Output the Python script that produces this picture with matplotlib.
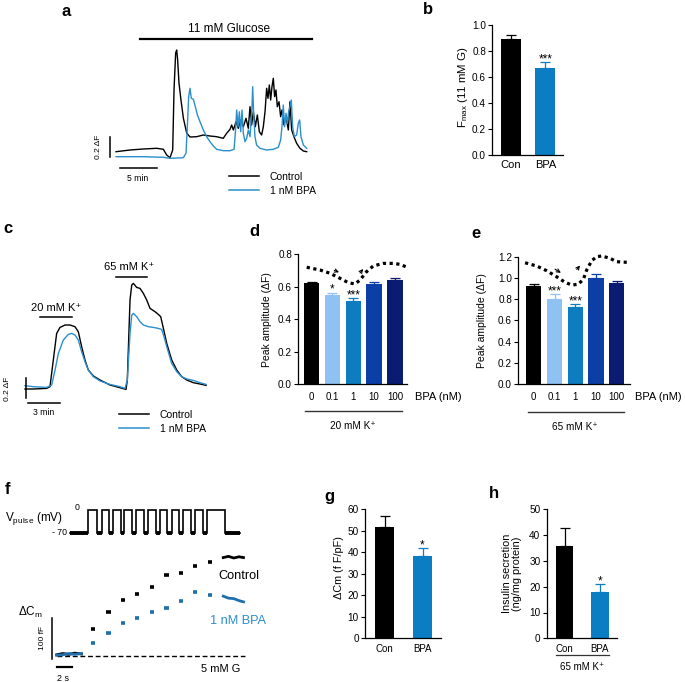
import matplotlib
matplotlib.use('Agg')
import matplotlib.pyplot as plt
from matplotlib.lines import Line2D
import numpy as np

plt.rcParams['font.family'] = ['Liberation Sans', 'DejaVu Sans']
plt.rcParams['mathtext.fontset'] = 'custom'
plt.rcParams['mathtext.rm'] = 'Liberation Sans'
plt.rcParams['axes.linewidth'] = 0.9

W, H = 685, 682

# ---------------- data ----------------
# a: Ca2+ trace, 11 mM glucose (time in min, dF)
a_ctrl_t = [0, 1.89, 3.69, 5.5, 6.4, 6.85, 7.3, 7.66, 7.84, 8.06, 8.2, 8.33, 8.51, 8.78, 9.1, 9.55,
            10.0, 10.9, 11.8, 12.7, 13.6, 14.5, 14.95, 15.41, 15.63, 15.86, 16.22, 16.53, 16.85,
            17.21, 17.57, 17.88, 18.11, 18.33, 18.56, 18.83, 19.1, 19.37, 19.68, 19.91, 20.14,
            20.36, 20.54, 20.72, 20.9, 21.08, 21.26, 21.44, 21.62, 21.8, 22.03, 22.25, 22.43,
            22.7, 22.97, 23.29, 23.51, 23.74, 24.05, 24.41, 24.86, 25.32, 25.77]
a_ctrl_f = [0.083, 0.10, 0.11, 0.117, 0.107, 0.05, 0.023, 0.10, 0.70, 1.07, 1.10, 1.00, 0.77, 0.60,
            0.42, 0.27, 0.23, 0.233, 0.25, 0.24, 0.233, 0.217, 0.267, 0.307, 0.35, 0.30, 0.383,
            0.317, 0.40, 0.333, 0.417, 0.317, 0.533, 0.35, 0.483, 0.333, 0.45, 0.283, 0.25, 0.333,
            0.483, 0.717, 0.617, 0.75, 0.60, 0.733, 0.817, 0.633, 0.70, 0.533, 0.583, 0.433, 0.50,
            0.35, 0.433, 0.30, 0.583, 0.30, 0.233, 0.167, 0.117, 0.09, 0.083]
a_bpa_t = [0, 3.69, 6.4, 7.3, 9.1, 9.46, 9.64, 9.82, 10.0, 10.18, 10.45, 10.72, 11.0, 11.35, 11.8,
           12.25, 12.7, 13.15, 13.6, 14.5, 15.41, 15.95, 16.13, 16.31, 16.49, 16.67, 16.85, 17.03,
           17.21, 17.43, 17.66, 17.88, 18.11, 18.38, 18.47, 18.6, 18.78, 19.0, 19.46, 20.36, 21.26,
           21.94, 22.25, 22.43, 22.61, 22.79, 22.97, 23.15, 23.33, 23.51, 23.69, 23.87, 24.1,
           24.41, 24.64, 24.82, 25.0, 25.32, 25.77]
a_bpa_f = [0.033, 0.033, 0.027, 0.017, 0.023, 0.067, 0.333, 0.633, 0.717, 0.617, 0.607, 0.533,
           0.45, 0.383, 0.30, 0.233, 0.183, 0.14, 0.107, 0.093, 0.093, 0.107, 0.267, 0.50, 0.333,
           0.483, 0.283, 0.50, 0.267, 0.183, 0.217, 0.30, 0.233, 0.533, 0.733, 0.467, 0.233, 0.15,
           0.117, 0.10, 0.107, 0.127, 0.20, 0.333, 0.55, 0.333, 0.467, 0.367, 0.483, 0.533, 0.60,
           0.333, 0.233, 0.25, 0.367, 0.40, 0.233, 0.15, 0.117]

# b: Fmax
b_groups = ['Con', 'BPA']
b_mean = [0.89, 0.665]
b_sem = [0.035, 0.05]

# c: K+ depolarisation traces (time in min, dF)
c_ctrl_t = [0, 0.77, 2.01, 2.32, 2.63, 2.94, 3.25, 3.72, 4.18, 4.64, 4.95, 5.26, 5.57, 5.88, 6.35,
            6.97, 7.89, 8.82, 9.38, 9.5, 9.75, 9.91, 10.06, 10.37, 10.68, 10.99, 11.3, 11.61,
            12.07, 12.38, 12.6, 12.85, 13.16, 13.62, 14.09, 14.55, 15.02, 15.63, 16.25, 16.81]
c_ctrl_f = [0.027, 0.027, 0.033, 0.05, 0.317, 0.583, 0.643, 0.667, 0.667, 0.65, 0.60, 0.45, 0.317,
            0.217, 0.157, 0.117, 0.067, 0.04, 0.023, 0.117, 0.917, 1.067, 1.083, 1.043, 1.033,
            0.983, 0.917, 0.833, 0.80, 0.773, 0.75, 0.633, 0.483, 0.317, 0.217, 0.15, 0.117, 0.09,
            0.077, 0.063]
c_bpa_t = [0, 0.77, 2.01, 2.48, 2.79, 3.1, 3.56, 4.02, 4.33, 4.64, 4.95, 5.26, 5.57, 5.88, 6.35,
           6.97, 7.89, 8.82, 9.29, 9.5, 9.75, 9.91, 10.06, 10.37, 10.68, 10.99, 11.46, 11.92,
           12.38, 12.69, 12.91, 13.16, 13.62, 14.09, 14.55, 15.02, 15.63, 16.25, 16.81]
c_bpa_f = [0.06, 0.05, 0.043, 0.067, 0.217, 0.383, 0.517, 0.573, 0.583, 0.567, 0.517, 0.40, 0.30,
           0.217, 0.15, 0.107, 0.073, 0.05, 0.033, 0.117, 0.583, 0.767, 0.783, 0.75, 0.70, 0.667,
           0.65, 0.643, 0.633, 0.623, 0.55, 0.45, 0.283, 0.20, 0.15, 0.127, 0.113, 0.09, 0.073]

# d, e: peak amplitude vs BPA dose
dose_labels = ['0', '0.1', '1', '10', '100']
d_mean = [0.62, 0.547, 0.515, 0.615, 0.643]
d_sem = [0.012, 0.016, 0.013, 0.014, 0.009]
d_stars = ['', '*', '***', '', '']
d_trend_x = [-0.24, 0.40, 0.88, 1.36, 1.76, 2.08, 2.32, 2.64, 2.96, 3.44, 3.92, 4.25, 4.53]
d_trend_y = [0.720, 0.703, 0.683, 0.652, 0.625, 0.617, 0.641, 0.693, 0.728, 0.744, 0.744, 0.738, 0.723]
e_mean = [0.925, 0.805, 0.728, 0.998, 0.95]
e_sem = [0.016, 0.042, 0.025, 0.038, 0.017]
e_stars = ['', '***', '***', '', '']
e_trend_x = [-0.42, 0.14, 0.62, 1.10, 1.50, 1.83, 2.14, 2.39, 2.55, 2.79, 3.03, 3.27, 3.67, 3.99, 4.48]
e_trend_y = [1.143, 1.112, 1.068, 1.011, 0.959, 0.933, 0.940, 0.987, 1.075, 1.162, 1.200, 1.207,
             1.185, 1.153, 1.147]

# f: capacitance steps (time in s, dCm in fF)
f_base_t = [0, 0.8, 1.6, 2.4, 3.3]
f_base_ctrl = [3, 6, 4, 7, 5]
f_base_bpa = [2, 3, 6, 4, 6]
f_step_t = [4.88, 6.9, 8.84, 10.75, 12.67, 14.64, 16.53, 18.44, 20.44]
f_step_ctrl = [65, 108, 137, 151, 169, 198, 203, 220, 230]
f_step_bpa = [31, 55, 80, 92, 108, 116, 134, 155, 149]
f_end_t = [22.2, 22.9, 23.6, 24.3, 24.9]
f_end_ctrl = [240, 243, 239, 242, 240]
f_end_bpa = [146, 141, 140, 135, 132]
pulse_on = [18.3, 31.7, 42.7, 54.3, 66, 77.7, 90, 101.7, 113.3, 125, 136.7]
pulse_off = [27.3, 39.3, 50.7, 62.3, 74, 85.7, 97.3, 109.3, 121, 132.7, 155]
pulse_end = 170

# g, h
g_mean = [51.6, 38.2]
g_sem = [5.3, 3.6]
h_mean = [35.8, 18.1]
h_sem = [7.1, 2.8]

black = '#000000'
blue = '#0b7dc3'
trace_blue = '#2a8fcc'
dose_colors = ['#000000', '#8fc1f3', '#0e7cc1', '#0b3fa6', '#0a1b72']

fig = plt.figure(figsize=(W / 100, H / 100), dpi=100)


def add_ax(l, t, r, b):
    return fig.add_axes([l / W, 1 - b / H, (r - l) / W, (b - t) / H])


def bar_panel(ax, means, sems, colors, width, cap, xlabels, xsize):
    x = np.arange(len(means))
    ax.bar(x, means, width, color=colors, zorder=2)
    for xi, m, s, c in zip(x, means, sems, colors):
        ax.errorbar(xi, m, yerr=[[0], [s]], color=c, capsize=cap, elinewidth=0.9,
                    capthick=0.9, zorder=1)
    for side in ['top', 'right']:
        ax.spines[side].set_visible(False)
    ax.set_xticks(x)
    ax.set_xticklabels(xlabels)
    ax.tick_params(axis='y', length=3, width=0.8, pad=1.5, labelsize=7.2)
    ax.tick_params(axis='x', length=0, pad=4, labelsize=xsize)


def letter(x, y, s):
    fig.text(x / W, 1 - y / H, s, fontsize=12, fontweight='bold', ha='center', va='center')


# ---------------- a ----------------
ax = add_ax(95, 15, 320, 200)
ax.plot(a_ctrl_t, a_ctrl_f, color=black, lw=1.0)
ax.plot(a_bpa_t, a_bpa_f, color=trace_blue, lw=1.0)
ax.plot([3.24, 26.45], [1.21, 1.21], color=black, lw=1.6)
ax.text(15.27, 1.31, '11 mM Glucose', ha='center', va='center', fontsize=8.5)
ax.plot([-0.81, -0.81], [0.03, 0.23], color=black, lw=1.1)
ax.text(-2.3, 0.13, '0.2 ΔF', rotation=90, ha='center', va='center', fontsize=6)
ax.plot([0.54, 5.5], [-0.083, -0.083], color=black, lw=1.1)
ax.text(2.88, -0.183, '5 min', ha='center', va='center', fontsize=6.2)
ax.set_xlim(-2.84, 27.57)
ax.set_ylim(-0.40, 1.45)
ax.axis('off')
handles = [Line2D([], [], color=black, lw=1.1), Line2D([], [], color=trace_blue, lw=1.1)]
ax.legend(handles, ['Control', '1 nM BPA'], loc='upper left', bbox_to_anchor=(229 / W, 1 - 172 / H),
          bbox_transform=fig.transFigure, frameon=False, fontsize=7.5, handlelength=2.9,
          handletextpad=1.0, labelspacing=0.35, borderpad=0, borderaxespad=0)
letter(66, 12, 'a')

# ---------------- b ----------------
ax = add_ax(492.3, 25, 562.7, 154.7)
bar_panel(ax, b_mean, b_sem, [black, blue], 0.58, 3.6, b_groups, 8)
ax.set_xlim(-0.55, 1.51)
ax.set_ylim(0, 1.0)
ax.set_yticks(np.arange(0, 1.01, 0.2))
ax.set_yticklabels(['%.1f' % v for v in np.arange(0, 1.01, 0.2)])
ax.text(1, b_mean[1] + b_sem[1], '***', ha='center', va='baseline', fontsize=8.5)
ax.set_ylabel(r'F$_{\mathregular{max}}$ (11 mM G)', fontsize=8.2, va='center')
ax.yaxis.set_label_coords((463 - 492.3) / 70.4, 0.52)
letter(428, 10, 'b')

# ---------------- c ----------------
ax = add_ax(0, 250, 215, 440)
ax.plot(c_ctrl_t, c_ctrl_f, color=black, lw=1.0)
ax.plot(c_bpa_t, c_bpa_f, color=trace_blue, lw=1.0)
ax.plot([1.39, 4.39], [0.744, 0.744], color=black, lw=1.1)
ax.text(2.85, 0.84, '20 mM K⁺', ha='center', va='center', fontsize=8)
ax.plot([8.45, 11.36], [1.15, 1.15], color=black, lw=1.1)
ax.text(9.69, 1.25, '65 mM K⁺', ha='center', va='center', fontsize=8)
ax.plot([0.06, 0.06], [-0.066, 0.134], color=black, lw=1.1)
ax.text(-1.62, 0.03, '0.2 ΔF', rotation=90, ha='center', va='center', fontsize=6)
ax.plot([0.25, 3.25], [-0.117, -0.117], color=black, lw=1.1)
ax.text(1.7, -0.206, '3 min', ha='center', va='center', fontsize=6.2)
ax.set_xlim(-2.32, 17.64)
ax.set_ylim(-0.483, 1.417)
ax.axis('off')
ax.legend(handles, ['Control', '1 nM BPA'], loc='upper left', bbox_to_anchor=(119 / W, 1 - 410 / H),
          bbox_transform=fig.transFigure, frameon=False, fontsize=7.5, handlelength=2.9,
          handletextpad=1.0, labelspacing=0.35, borderpad=0, borderaxespad=0)
letter(8, 229, 'c')


# ---------------- d, e ----------------
def dose_panel(ax, means, sems, stars, tx, ty, arrows, ymax, step, line_y, k_label, bpa_x):
    bar_panel(ax, means, sems, dose_colors, 0.735, 3.3, dose_labels, 7)
    ax.tick_params(axis='x', pad=6)
    ax.set_ylim(0, ymax)
    ticks = np.arange(0, ymax + 1e-6, step)
    ax.set_yticks(ticks)
    ax.set_yticklabels(['%.1f' % v for v in ticks])
    for i, s in enumerate(stars):
        if s:
            ax.text(i, means[i] + sems[i], s, ha='center', va='baseline', fontsize=8.5)
    ax.plot(tx, ty, color=black, lw=2.3, linestyle=(0, (1, 1.1)), clip_on=False)
    for (x0, y0, x1, y1) in arrows:
        ax.annotate('', xy=(x1, y1), xytext=(x0, y0),
                    arrowprops=dict(arrowstyle='->', lw=0.8, mutation_scale=6, color=black))
    ax.set_ylabel('Peak amplitude (ΔF)', fontsize=7.5, va='center')
    tr = ax.get_xaxis_transform()
    ax.plot([-0.3, 4.35], [line_y, line_y], color='#333333', lw=1.0, transform=tr, clip_on=False)
    ax.text(2.0, line_y - 0.12, k_label, transform=tr, ha='center', va='center', fontsize=7.2)
    ax.text(bpa_x, -0.10, 'BPA (nM)', transform=tr, ha='left', va='center', fontsize=8)


ax = add_ax(298.3, 254.3, 406.7, 384)
ax.set_xlim(-0.644, 4.567)
dose_panel(ax, d_mean, d_sem, d_stars, d_trend_x, d_trend_y,
           [(0.96, 0.707, 1.44, 0.683), (2.24, 0.672, 2.56, 0.723)],
           0.8, 0.2, -0.206, '20 mM K⁺', 4.97)
ax.yaxis.set_label_coords((267 - 298.3) / 108.4, 0.5)
letter(254, 232, 'd')

ax = add_ax(518.3, 256.7, 630, 384)
ax.set_xlim(-0.747, 4.636)
dose_panel(ax, e_mean, e_sem, e_stars, e_trend_x, e_trend_y,
           [(0.91, 1.096, 1.42, 1.034), (1.99, 1.059, 2.31, 1.138)],
           1.2, 0.2, -0.22, '65 mM K⁺', 4.88)
ax.yaxis.set_label_coords((482 - 518.3) / 111.7, 0.5)
letter(476, 234, 'e')

# ---------------- f ----------------
ax = add_ax(0, 495, 260, 545)
wx, wy = [0], [-70]
for on, off in zip(pulse_on, pulse_off):
    wx += [on, on, off, off]
    wy += [-70, 0, 0, -70]
wx.append(pulse_end)
wy.append(-70)
ax.plot(wx, wy, color=black, lw=1.2, solid_joinstyle='miter')
lows = [(0, pulse_on[0])] + list(zip(pulse_off[:-1], pulse_on[1:])) + [(pulse_off[-1], pulse_end)]
for x0, x1 in lows:
    ax.plot([x0, x1], [-70, -70], color=black, lw=2.8, solid_capstyle='butt')
ax.text(-36, -26, r'V$_{\mathregular{pulse}}$ (mV)', ha='center', va='center', fontsize=8.5)
ax.text(7, 6, '0', ha='center', va='center', fontsize=6.3)
ax.text(-3.5, -68, '- 70', ha='right', va='center', fontsize=6.3)
ax.set_xlim(-70, 190)
ax.set_ylim(-105, 45)
ax.axis('off')

ax = add_ax(0, 545, 260, 682)
ax.plot([0.04, 25.1], [0, 0], color=black, lw=1.0, linestyle=(0, (3.5, 2)))
ax.plot(f_base_t, f_base_ctrl, color=black, lw=2.0)
ax.plot(f_base_t, f_base_bpa, color='#1f6fae', lw=2.0)
for t, v in zip(f_step_t, f_step_ctrl):
    ax.plot([t - 0.28, t + 0.28], [v, v], color=black, lw=2.6, solid_capstyle='butt')
for t, v in zip(f_step_t, f_step_bpa):
    ax.plot([t - 0.28, t + 0.28], [v, v], color='#1f6fae', lw=2.6, solid_capstyle='butt')
ax.plot(f_end_t, f_end_ctrl, color=black, lw=2.0)
ax.plot(f_end_t, f_end_bpa, color='#1f6fae', lw=2.0)
ax.text(21.6, 195, 'Control', ha='left', va='center', fontsize=9.2)
ax.text(20.4, 85, '1 nM BPA', ha='left', va='center', fontsize=9.2, color=trace_blue)
ax.text(21.8, -32, '5 mM G', ha='center', va='center', fontsize=8)
ax.text(-5.2, 105, r'ΔC$_{\mathregular{m}}$', ha='left', va='center', fontsize=8.5)
ax.plot([-0.63, -0.63], [-7, 93], color=black, lw=1.1)
ax.text(-1.85, 44, '100 fF', rotation=90, ha='center', va='center', fontsize=6)
ax.plot([0, 2], [-26.8, -26.8], color=black, lw=1.6)
ax.text(0.84, -53.7, '2 s', ha='center', va='center', fontsize=6.5)
ax.set_xlim(-7.56, 27.1)
ax.set_ylim(-63.4, 270.7)
ax.axis('off')
letter(8, 489, 'f')

# ---------------- g ----------------
ax = add_ax(365, 509.3, 440.7, 638.3)
bar_panel(ax, g_mean, g_sem, [black, blue], 0.51, 3.6, b_groups, 7)
ax.set_xlim(-0.521, 1.48)
ax.set_ylim(0, 60)
ax.set_yticks(range(0, 61, 10))
ax.text(1, g_mean[1] + g_sem[1], '*', ha='center', va='baseline', fontsize=8.5)
ax.set_ylabel('ΔCm (f F/pF)', fontsize=7.8, va='center')
ax.yaxis.set_label_coords((338.5 - 365) / 75.7, 0.55)
letter(329, 496, 'g')

# ---------------- h ----------------
ax = add_ax(546.7, 509.3, 616.7, 638.3)
bar_panel(ax, h_mean, h_sem, [black, blue], 0.503, 3.3, b_groups, 7)
ax.set_xlim(-0.506, 1.483)
ax.set_ylim(0, 50)
ax.set_yticks(range(0, 51, 10))
ax.text(1, h_mean[1] + h_sem[1], '*', ha='center', va='baseline', fontsize=8.5)
ax.set_ylabel('Insulin secretion\n(ng/mg protein)', fontsize=7.8, va='center', linespacing=1.1)
ax.yaxis.set_label_coords((512 - 546.7) / 70, 0.5)
tr = ax.get_xaxis_transform()
ax.plot([-0.25, 1.27], [-0.13, -0.13], color='#333333', lw=0.9, transform=tr, clip_on=False)
ax.text(0.5, -0.225, '65 mM K⁺', transform=tr, ha='center', va='center', fontsize=7)
letter(494, 493, 'h')

fig.savefig('out.png', dpi=100)
